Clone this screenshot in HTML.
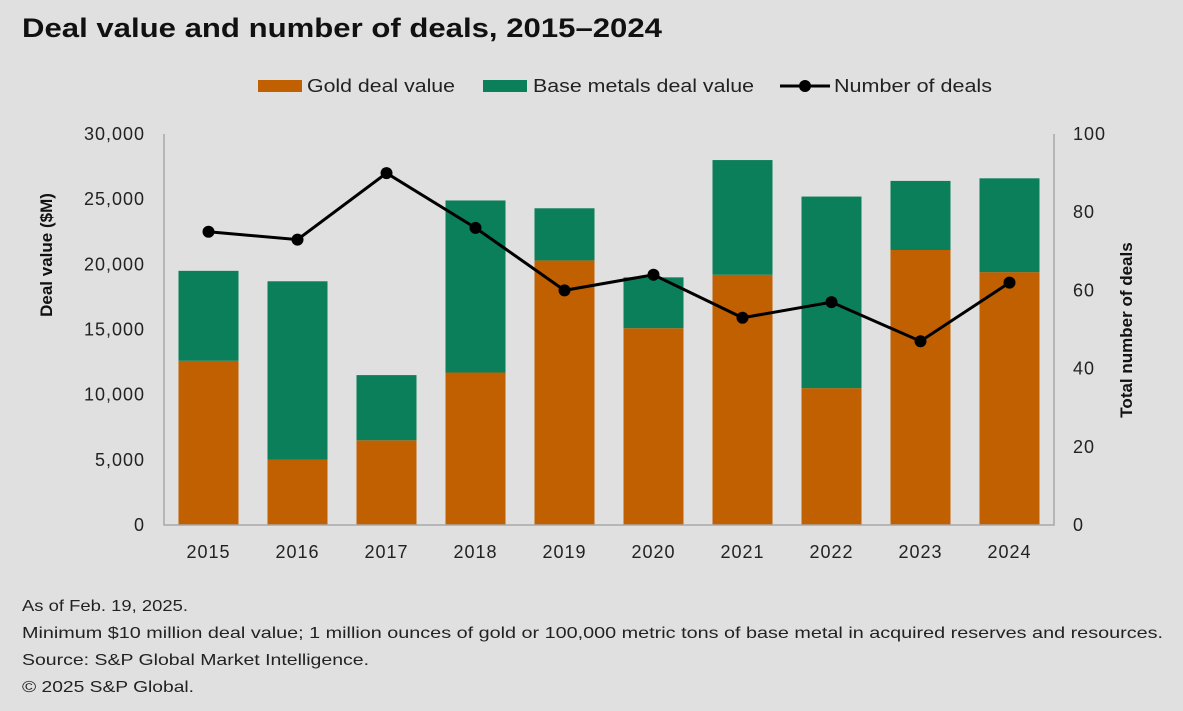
<!DOCTYPE html>
<html><head><meta charset="utf-8"><style>
html,body{margin:0;padding:0;background:#e0e0e0;}
body{width:1183px;height:706px;overflow:hidden;font-family:"Liberation Sans",sans-serif;}
</style></head><body>
<svg id="chart" width="1183" height="706" xmlns="http://www.w3.org/2000/svg" font-family="Liberation Sans, sans-serif">
<rect width="1183" height="706" fill="#e0e0e0"/>
<text x="22" y="37" font-size="27" font-weight="bold" fill="#111" textLength="640" lengthAdjust="spacingAndGlyphs">Deal value and number of deals, 2015–2024</text>
<g font-size="18" fill="#222">
<g><rect x="258" y="80" width="44" height="12" fill="#c06000"/><text x="307" y="92" textLength="148" lengthAdjust="spacingAndGlyphs">Gold deal value</text></g>
<g><rect x="483" y="80" width="44" height="12" fill="#0a7f5a"/><text x="533" y="92" textLength="221" lengthAdjust="spacingAndGlyphs">Base metals deal value</text></g>
<g><line x1="780" y1="86" x2="830" y2="86" stroke="#000" stroke-width="3"/><circle cx="805" cy="86" r="6" fill="#000"/><text x="834" y="92" textLength="158" lengthAdjust="spacingAndGlyphs">Number of deals</text></g>
</g>
<g id="plot"></g>
<text transform="translate(52,255) rotate(-90)" text-anchor="middle" font-size="17" font-weight="bold" fill="#111">Deal value ($M)</text>
<text transform="translate(1132,330) rotate(-90)" text-anchor="middle" font-size="17" font-weight="bold" fill="#111">Total number of deals</text>
<g font-size="16" fill="#222">
<text x="22" y="611" textLength="166" lengthAdjust="spacingAndGlyphs">As of Feb. 19, 2025.</text>
<text x="22" y="638" textLength="1141" lengthAdjust="spacingAndGlyphs">Minimum $10 million deal value; 1 million ounces of gold or 100,000 metric tons of base metal in acquired reserves and resources.</text>
<text x="22" y="665" textLength="347" lengthAdjust="spacingAndGlyphs">Source: S&amp;P Global Market Intelligence.</text>
<text x="22" y="692" textLength="172" lengthAdjust="spacingAndGlyphs">© 2025 S&amp;P Global.</text>
</g>
</svg>
<script>
const years=["2015","2016","2017","2018","2019","2020","2021","2022","2023","2024"];
const goldValues=[12600,5000,6500,11700,20300,15100,19200,10500,21100,19400];
const baseValues=[6900,13700,5000,13200,4000,3900,8800,14700,5300,7200];
const dealCounts=[75,73,90,76,60,64,53,57,47,62];
const leftTicks=[0,5000,10000,15000,20000,25000,30000];
const rightTicks=[0,20,40,60,80,100];
const NS="http://www.w3.org/2000/svg";
const plot=document.getElementById('plot');
const x0=164,x1=1054,yb=525,yt=134;
const step=(x1-x0)/years.length;
const xc=i=>x0+step*(i+0.5);
const yL=v=>yb-(v/30000)*(yb-yt);
const yR=v=>yb-(v/100)*(yb-yt);
function mk(tag,attrs){const e=document.createElementNS(NS,tag);for(const k in attrs)e.setAttribute(k,attrs[k]);plot.appendChild(e);return e;}
leftTicks.forEach(t=>{const e=mk('text',{x:145,y:yL(t)+6,'text-anchor':'end','font-size':18,'letter-spacing':1,fill:'#222'});e.textContent=t.toLocaleString('en-US');

});
rightTicks.forEach(t=>{const e=mk('text',{x:1073,y:yR(t)+6,'font-size':18,'letter-spacing':1,fill:'#222'});e.textContent=t;

});
const bw=60;
years.forEach((yr,i)=>{
const g=mk('rect',{x:xc(i)-bw/2,y:yL(goldValues[i]),width:bw,height:yb-yL(goldValues[i]),fill:'#c06000'});


const tot=goldValues[i]+baseValues[i];
const b=mk('rect',{x:xc(i)-bw/2,y:yL(tot),width:bw,height:yL(goldValues[i])-yL(tot),fill:'#0a7f5a'});


const t=mk('text',{x:xc(i),y:558,'text-anchor':'middle','font-size':18,'letter-spacing':1,fill:'#222'});t.textContent=yr;


});
const ax=mk('path',{d:`M${x0} ${yt}V${yb}H${x1}V${yt}`,stroke:'#a8a8a8','stroke-width':1.5,fill:'none'});


const ln=mk('polyline',{points:dealCounts.map((d,i)=>xc(i)+','+yR(d)).join(' '),fill:'none',stroke:'#000','stroke-width':3});


dealCounts.forEach((d,i)=>{const c=mk('circle',{cx:xc(i),cy:yR(d),r:6,fill:'#000'});

});
</script>
</body></html>
